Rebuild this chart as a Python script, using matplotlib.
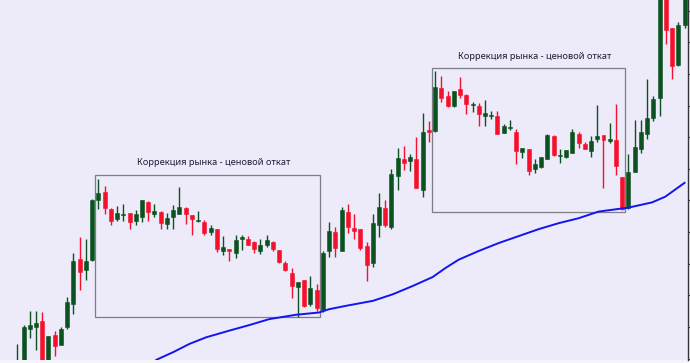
import numpy as np
import matplotlib
matplotlib.use("Agg")
import matplotlib.pyplot as plt
from matplotlib.patches import Rectangle

# OHLC prices (arbitrary units), one candle per bar
opens = [-15, -5, 31, 33, 39, -3, 25.7, 15.7, 33, 57,
         101.7, 91, 101, 161, 169.7, 152.5, 142.3, 146, 148.3, 140.3,
         144.3, 159.7, 147, 149, 137, 144.3, 147, 153, 146.3, 140.3,
         139.7, 129, 132.3, 110.3, 112.3, 108.3, 121.7, 121.7, 119, 109.7,
         116.3, 119, 111, 98.3, 87.7, 73.7, 80.3, 57, 71, 50.3,
         110.3, 129, 110.3, 149.7, 133, 131.7, 115, 97.7, 135.7, 153,
         134.3, 185.7, 203, 200.3, 203, 171.7, 231.7, 231, 274.3, 266.3,
         255.7, 273, 267, 257, 255.7, 246.3, 246.3, 245.7, 229, 233.7,
         230.3, 209.7, 212.3, 192.3, 195, 202.3, 225.7, 205.7, 205, 209,
         228.3, 218.3, 211, 223, 227, 221, 221.7, 185, 153, 189.7,
         213, 227.7, 244.3, 264.3, 390, 334.3, 297, 337.7]
highs = [16.3, 35, 49.7, 49.7, 48.3, 24.3, 29, 33, 63.7, 107.7,
         124.3, 122.3, 162.3, 183, 175.7, 153, 155.7, 157.7, 148.3, 151,
         161, 160.3, 157.7, 150.3, 148.3, 156.3, 174.3, 154.3, 146.3, 150.3,
         141, 136.3, 132.3, 125.3, 112.3, 125.7, 125.7, 125, 119.7, 122.3,
         125.7, 120.3, 111, 100.3, 93, 78.3, 81, 84.3, 76.3, 110.3,
         139.7, 134, 154.3, 157.7, 147.7, 131.7, 119, 147.7, 168.3, 161.7,
         193, 213.7, 216.3, 207.7, 225, 249, 241, 291, 286.3, 271,
         271.7, 285, 268.3, 260.3, 259, 261.7, 251, 251, 238.3, 242.3,
         233, 213.7, 212.3, 203, 204.3, 228.3, 227, 212.3, 211.7, 233,
         230.3, 219.7, 225.7, 257, 227, 239, 258.3, 185, 207.7, 242.3,
         242.3, 283, 266, 390, 395, 334.3, 341, 390]
lows = [-20, -10, 22.3, 10.3, -10, -8, 4.3, 15, 31.7, 46.3,
        70.3, 81, 100.3, 152.3, 147.7, 135.7, 140.3, 140.3, 132.3, 136.3,
        139, 140.3, 144.3, 132.3, 132.3, 132.3, 147, 137, 126.3, 139,
        126.3, 126.3, 109, 105.7, 99.7, 103, 111, 115.7, 108.3, 107,
        113.7, 110.3, 98.3, 89.7, 62.3, 43.7, 53.7, 54.3, 49.7, 48.3,
        104.3, 103.5, 110.3, 128.3, 121.7, 111, 79.7, 94.3, 123.7, 133.7,
        132.3, 171.7, 191.7, 191, 173.7, 164.3, 219.7, 229.7, 259.7, 255,
        255, 264.3, 248.3, 250.3, 235.7, 235.7, 243, 227.7, 229, 232.3,
        197.7, 203.7, 187, 189, 193.7, 202.3, 205.7, 199, 203.7, 209,
        214.3, 212.3, 205, 220.3, 173, 219, 187, 151.7, 152.3, 189.7,
        208.3, 223, 241, 246.3, 319, 283.7, 296.3, 335]
closes = [-1, 33.7, 35, 37, -5, 24.3, 14.3, 31.7, 59, 99.7,
          89, 99.7, 161, 168.3, 153.7, 140.3, 148.3, 147, 139, 147,
          161, 149, 150.3, 138.3, 143, 151, 154.3, 147, 142.3, 141,
          127.7, 133, 111.7, 113.7, 109.7, 121, 123.7, 116.3, 112.3, 115.7,
          121, 111.7, 99, 91, 75, 78.3, 55, 73, 52.3, 107.7,
          130.3, 113, 151, 134.3, 129.7, 113, 96.3, 137.7, 154.3, 135.7,
          187.7, 203.7, 199, 204.3, 173.7, 230.3, 229.7, 275.7, 264.3, 256.3,
          271, 267.7, 258.3, 257.7, 248.3, 249, 247, 227.7, 236.3, 234.3,
          211, 213.7, 190.3, 197.7, 204.3, 227, 207, 207, 211.7, 229.7,
          219, 213, 221, 225.7, 222.3, 223, 195.7, 152.3, 189.7, 215,
          230.3, 244.3, 263.7, 380, 332.3, 296.3, 337.7, 380]

# moving average, sampled at bar positions
ma_x = [22.3, 25, 27.6, 30.3, 34, 37.2, 40.4, 44.7, 48.4, 50, 52.7, 57,
        60.2, 63.4, 66.6, 68.7, 70.8, 74, 77.2, 80.4, 83.6, 86.8, 90,
        93.2, 98, 101.8, 103.9, 107]
ma_y = [0.3, 8, 16.3, 23, 29.7, 35.3, 41.3, 45.7, 48, 51.3, 54.7, 59.7,
        66.3, 74.7, 83.7, 93, 101.3, 110, 118, 125, 132, 138, 143,
        149.7, 153.7, 159, 164.7, 178.7]

# correction zones: (first bar, last bar, low, high)
zones = [(12.54, 48.48, 43, 187), (66.46, 97.5, 149, 294)]
zone_label = "Коррекция рынка - ценовой откат"

GREEN = "#0b5220"
RED = "#f5102c"
BG = "#edeaf9"

fig = plt.figure(figsize=(6.9, 3.63), dpi=100, facecolor="#f5f3fc")
ax = fig.add_axes([0, 0.008, 0.9971, 0.992])
ax.set_facecolor(BG)

x = np.arange(len(opens))
w = 0.64
for i in x:
    o, h, l, c = opens[i], highs[i], lows[i], closes[i]
    col = GREEN if c >= o else RED
    ax.vlines(i, l, h, color=col, lw=1, zorder=2)
    lo, hi = min(o, c), max(o, c)
    ax.add_patch(Rectangle((i - w / 2, lo), w, max(hi - lo, 0.8),
                           facecolor=col, edgecolor=col, lw=0.4, zorder=3))

ax.plot(ma_x, ma_y, color="#1414f0", lw=1.4, zorder=4)

for x0, x1, y0, y1 in zones:
    ax.add_patch(Rectangle((x0, y0), x1 - x0, y1 - y0, fill=False,
                           edgecolor="#7d7d87", lw=0.9, zorder=1))
    ax.text((x0 + x1) / 2 + 1.0, y1 + 12.5, zone_label, ha="center",
            va="center", fontsize=6.7, color="#1e1e36", family="Noto Sans")

ax.set_xlim(-2.77, 107.55)
ax.set_ylim(0, 363)
ax.set_yticks(np.arange(1.4, 363, 31.9))
ax.yaxis.tick_right()
ax.tick_params(axis="y", direction="out", length=2.5, width=0.8,
               labelright=False, colors="#333333")
ax.set_xticks([])
for s in ["left", "top", "bottom"]:
    ax.spines[s].set_visible(False)
ax.spines["right"].set_color("#333333")
ax.spines["right"].set_linewidth(1.0)

fig.savefig("out.png", dpi=100, facecolor=fig.get_facecolor())
